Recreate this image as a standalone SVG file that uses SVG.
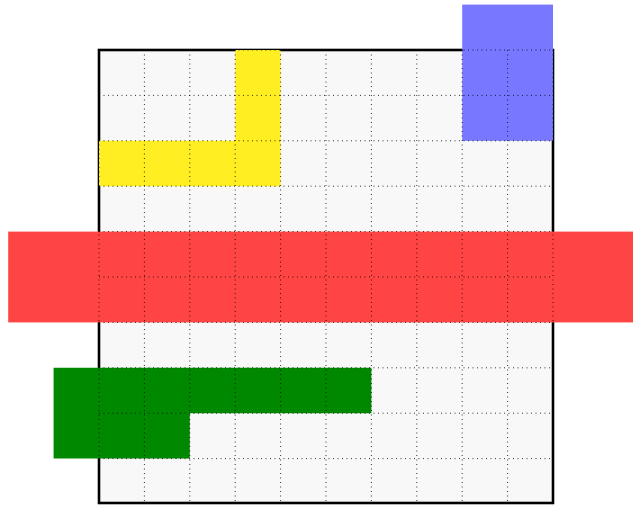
<svg xmlns="http://www.w3.org/2000/svg" width="633" height="505" viewBox="0 0 633 505">
<style>
.grid line{stroke:#000;stroke-width:1;stroke-dasharray:1 3.5;stroke-opacity:0.8}
</style>
<rect width="633" height="505" fill="#fff"/>
<g id="board">
<rect x="99" y="50" width="454" height="453" fill="#f8f8f8" stroke="#000" stroke-width="2.6"/>
</g>
<g id="yellow"><path d="M235.2 50H280.6V186.2H99V140.8H235.2Z" fill="#ffee22"/></g>
<g id="blue"><rect x="462.2" y="4.6" width="90.8" height="136.2" fill="#7777ff"/></g>
<g id="red"><rect x="8.2" y="231.6" width="625" height="90.8" fill="#ff4444"/></g>
<g id="green"><path d="M53.6 367.8H371.4V413.2H189.8V458.6H53.6Z" fill="#008800"/></g>
<g class="grid" id="grid">
<line x1="99" y1="50" x2="99" y2="503"/>
<line x1="144.4" y1="50" x2="144.4" y2="503"/>
<line x1="189.8" y1="50" x2="189.8" y2="503"/>
<line x1="235.2" y1="50" x2="235.2" y2="503"/>
<line x1="280.6" y1="50" x2="280.6" y2="503"/>
<line x1="326" y1="50" x2="326" y2="503"/>
<line x1="371.4" y1="50" x2="371.4" y2="503"/>
<line x1="416.8" y1="50" x2="416.8" y2="503"/>
<line x1="462.2" y1="50" x2="462.2" y2="503"/>
<line x1="507.6" y1="50" x2="507.6" y2="503"/>
<line x1="553" y1="50" x2="553" y2="503"/>
<line x1="99" y1="50" x2="553" y2="50"/>
<line x1="99" y1="95.4" x2="553" y2="95.4"/>
<line x1="99" y1="140.8" x2="553" y2="140.8"/>
<line x1="99" y1="186.2" x2="553" y2="186.2"/>
<line x1="99" y1="231.6" x2="553" y2="231.6"/>
<line x1="99" y1="277" x2="553" y2="277"/>
<line x1="99" y1="322.4" x2="553" y2="322.4"/>
<line x1="99" y1="367.8" x2="553" y2="367.8"/>
<line x1="99" y1="413.2" x2="553" y2="413.2"/>
<line x1="99" y1="458.6" x2="553" y2="458.6"/>
<line x1="99" y1="503" x2="553" y2="503"/>
</g>
</svg>
